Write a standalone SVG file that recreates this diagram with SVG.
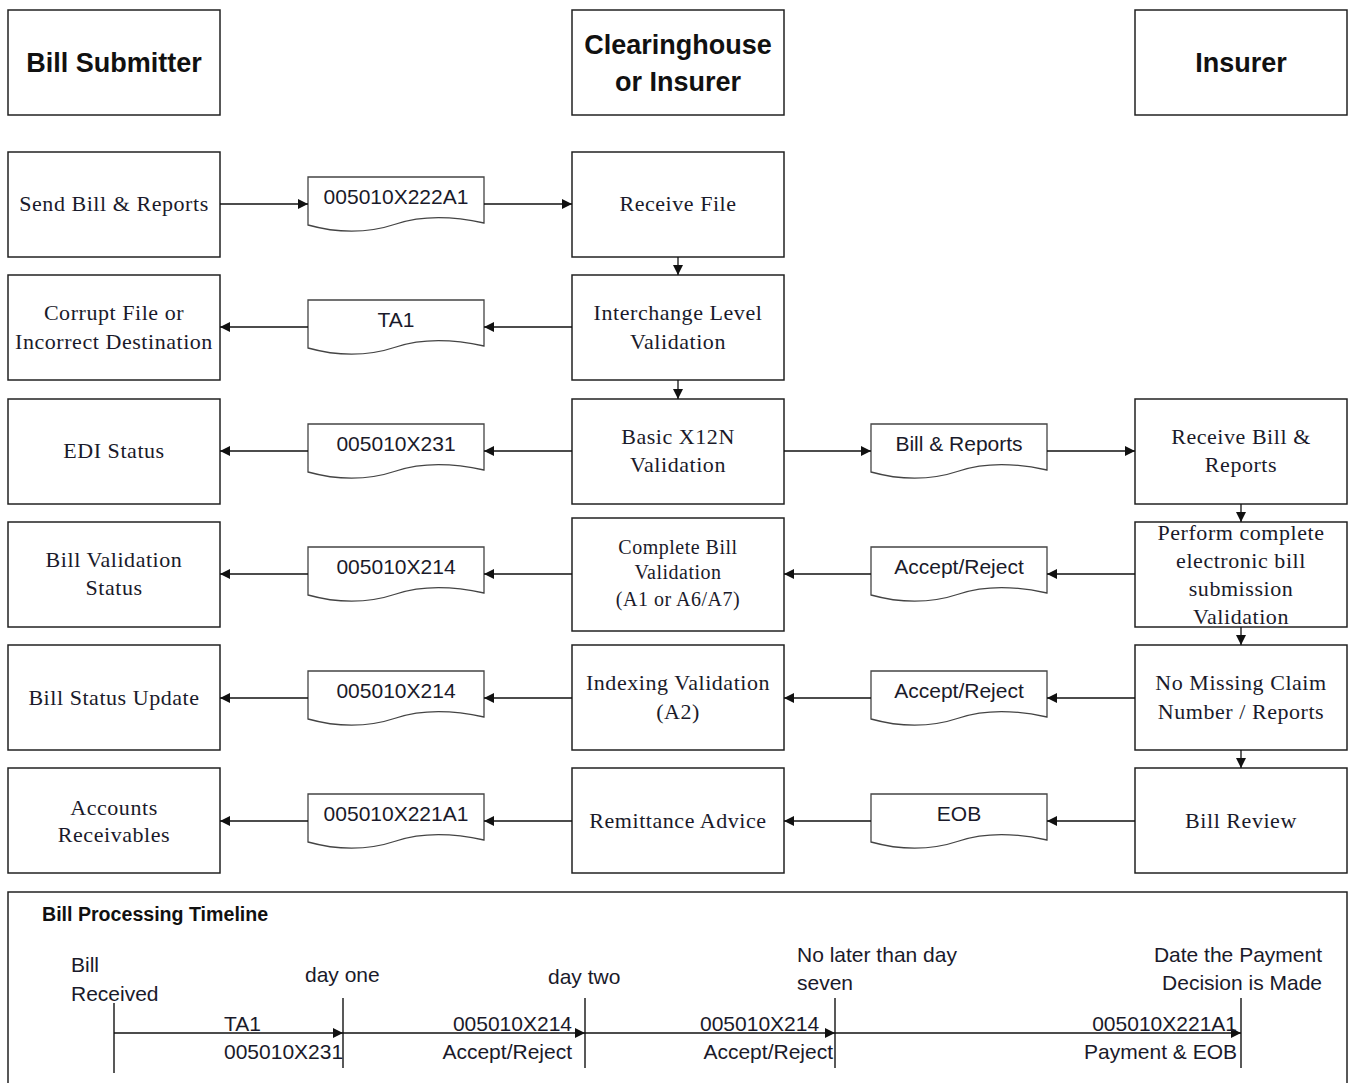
<svg xmlns="http://www.w3.org/2000/svg" width="1350" height="1083" viewBox="0 0 1350 1083">
<style>
.box{fill:#fff;stroke:#222;stroke-width:1.5}
.doc{fill:#fff;stroke:#444;stroke-width:1.3}
.hd{font-family:"Liberation Sans",Arial,sans-serif;font-weight:bold;font-size:27px;fill:#111;text-anchor:middle}
.t{font-family:"Liberation Serif","Times New Roman",serif;font-size:22px;letter-spacing:0.55px;fill:#1a1a2a;text-anchor:middle}
.ts{font-family:"Liberation Serif","Times New Roman",serif;font-size:20px;letter-spacing:0.5px;fill:#1a1a2a;text-anchor:middle}
.d{font-family:"Liberation Sans",Arial,sans-serif;font-size:21px;fill:#1a1a2a;text-anchor:middle}
.tl{font-family:"Liberation Sans",Arial,sans-serif;font-size:21px;fill:#1a1a2a}
.tlr{font-family:"Liberation Sans",Arial,sans-serif;font-size:21px;fill:#1a1a2a;text-anchor:end}
.tt{font-family:"Liberation Sans",Arial,sans-serif;font-weight:bold;font-size:19.6px;fill:#111}
.c{stroke:#111;stroke-width:1.3;fill:none;marker-end:url(#ah)}
.tick{stroke:#222;stroke-width:1.5}
</style>
<defs>
<marker id="ah" viewBox="0 0 10 10" refX="10" refY="5" markerWidth="10" markerHeight="10" markerUnits="userSpaceOnUse" orient="auto">
<path d="M0,0 L10,5 L0,10 Z" fill="#111"/>
</marker>
<path id="docshape" d="M0,-27 H176 V19 C140,11 112,12 88,20 C64,28 36,31 0,21 Z"/>
</defs>

<!-- headers -->
<g id="hdr-submitter"><rect class="box" x="8" y="10" width="212" height="105"/><text class="hd" x="114" y="72">Bill Submitter</text></g>
<g id="hdr-clearinghouse"><rect class="box" x="572" y="10" width="212" height="105"/><text class="hd" x="678" y="54">Clearinghouse</text><text class="hd" x="678" y="91">or Insurer</text></g>
<g id="hdr-insurer"><rect class="box" x="1135" y="10" width="212" height="105"/><text class="hd" x="1241" y="72">Insurer</text></g>

<!-- left column -->
<g id="send-bill"><rect class="box" x="8" y="152" width="212" height="105"/><text class="t" x="114" y="211">Send Bill &amp; Reports</text></g>
<g id="corrupt-file"><rect class="box" x="8" y="275" width="212" height="105"/><text class="t" x="114" y="320">Corrupt File or</text><text class="t" x="114" y="349">Incorrect Destination</text></g>
<g id="edi-status"><rect class="box" x="8" y="399" width="212" height="105"/><text class="t" x="114" y="458">EDI Status</text></g>
<g id="bill-validation-status"><rect class="box" x="8" y="522" width="212" height="105"/><text class="t" x="114" y="567">Bill Validation</text><text class="t" x="114" y="595">Status</text></g>
<g id="bill-status-update"><rect class="box" x="8" y="645" width="212" height="105"/><text class="t" x="114" y="705">Bill Status Update</text></g>
<g id="accounts-receivables"><rect class="box" x="8" y="768" width="212" height="105"/><text class="t" x="114" y="815">Accounts</text><text class="t" x="114" y="842">Receivables</text></g>

<!-- middle column -->
<g id="receive-file"><rect class="box" x="572" y="152" width="212" height="105"/><text class="t" x="678" y="211">Receive File</text></g>
<g id="interchange"><rect class="box" x="572" y="275" width="212" height="105"/><text class="t" x="678" y="320">Interchange Level</text><text class="t" x="678" y="349">Validation</text></g>
<g id="basic-x12n"><rect class="box" x="572" y="399" width="212" height="105"/><text class="t" x="678" y="444">Basic X12N</text><text class="t" x="678" y="472">Validation</text></g>
<g id="complete-bill"><rect class="box" x="572" y="518" width="212" height="113"/><text class="ts" x="678" y="554">Complete Bill</text><text class="ts" x="678" y="579">Validation</text><text class="ts" x="678" y="606">(A1 or A6/A7)</text></g>
<g id="indexing"><rect class="box" x="572" y="645" width="212" height="105"/><text class="t" x="678" y="690">Indexing Validation</text><text class="t" x="678" y="719">(A2)</text></g>
<g id="remittance"><rect class="box" x="572" y="768" width="212" height="105"/><text class="t" x="678" y="828">Remittance Advice</text></g>

<!-- right column -->
<g id="receive-bill"><rect class="box" x="1135" y="399" width="212" height="105"/><text class="t" x="1241" y="444">Receive Bill &amp;</text><text class="t" x="1241" y="472">Reports</text></g>
<g id="perform-complete"><rect class="box" x="1135" y="522" width="212" height="105"/><text class="t" x="1241" y="540">Perform complete</text><text class="t" x="1241" y="568">electronic bill</text><text class="t" x="1241" y="596">submission</text><text class="t" x="1241" y="624">Validation</text></g>
<g id="no-missing"><rect class="box" x="1135" y="645" width="212" height="105"/><text class="t" x="1241" y="690">No Missing Claim</text><text class="t" x="1241" y="719">Number / Reports</text></g>
<g id="bill-review"><rect class="box" x="1135" y="768" width="212" height="105"/><text class="t" x="1241" y="828">Bill Review</text></g>

<!-- documents left -->
<g id="doc-222a1"><use href="#docshape" class="doc" transform="translate(308,204)"/><text class="d" x="396" y="204">005010X222A1</text></g>
<g id="doc-ta1"><use href="#docshape" class="doc" transform="translate(308,327)"/><text class="d" x="396" y="327">TA1</text></g>
<g id="doc-231"><use href="#docshape" class="doc" transform="translate(308,451)"/><text class="d" x="396" y="451">005010X231</text></g>
<g id="doc-214a"><use href="#docshape" class="doc" transform="translate(308,574)"/><text class="d" x="396" y="574">005010X214</text></g>
<g id="doc-214b"><use href="#docshape" class="doc" transform="translate(308,698)"/><text class="d" x="396" y="698">005010X214</text></g>
<g id="doc-221a1"><use href="#docshape" class="doc" transform="translate(308,821)"/><text class="d" x="396" y="821">005010X221A1</text></g>
<!-- documents right -->
<g id="doc-bill-reports"><use href="#docshape" class="doc" transform="translate(871,451)"/><text class="d" x="959" y="451">Bill &amp; Reports</text></g>
<g id="doc-accept1"><use href="#docshape" class="doc" transform="translate(871,574)"/><text class="d" x="959" y="574">Accept/Reject</text></g>
<g id="doc-accept2"><use href="#docshape" class="doc" transform="translate(871,698)"/><text class="d" x="959" y="698">Accept/Reject</text></g>
<g id="doc-eob"><use href="#docshape" class="doc" transform="translate(871,821)"/><text class="d" x="959" y="821">EOB</text></g>

<!-- connectors -->
<g id="connectors">
<path class="c" d="M220,204 H308"/>
<path class="c" d="M484,204 H572"/>
<path class="c" d="M678,257 V275"/>
<path class="c" d="M678,380 V399"/>
<path class="c" d="M572,327 H484"/>
<path class="c" d="M308,327 H220"/>
<path class="c" d="M572,451 H484"/>
<path class="c" d="M308,451 H220"/>
<path class="c" d="M784,451 H871"/>
<path class="c" d="M1047,451 H1135"/>
<path class="c" d="M1241,504 V522"/>
<path class="c" d="M1241,627 V645"/>
<path class="c" d="M1241,750 V768"/>
<path class="c" d="M1135,574 H1047"/>
<path class="c" d="M871,574 H784"/>
<path class="c" d="M572,574 H484"/>
<path class="c" d="M308,574 H220"/>
<path class="c" d="M1135,698 H1047"/>
<path class="c" d="M871,698 H784"/>
<path class="c" d="M572,698 H484"/>
<path class="c" d="M308,698 H220"/>
<path class="c" d="M1135,821 H1047"/>
<path class="c" d="M871,821 H784"/>
<path class="c" d="M572,821 H484"/>
<path class="c" d="M308,821 H220"/>
</g>

<!-- timeline -->
<g id="timeline">
<rect class="box" x="8" y="892" width="1339" height="200"/>
<text class="tt" x="42" y="921">Bill Processing Timeline</text>
<line class="tick" x1="114" y1="1003" x2="114" y2="1073"/>
<line class="tick" x1="343" y1="998" x2="343" y2="1068"/>
<line class="tick" x1="585" y1="998" x2="585" y2="1068"/>
<line class="tick" x1="835" y1="998" x2="835" y2="1068"/>
<line class="tick" x1="1241" y1="998" x2="1241" y2="1068"/>
<path class="c" d="M114,1033 H343"/>
<path class="c" d="M343,1033 H585"/>
<path class="c" d="M585,1033 H835"/>
<path class="c" d="M835,1033 H1241"/>
<text class="tl" x="71" y="972">Bill</text>
<text class="tl" x="71" y="1001">Received</text>
<text class="tl" x="305" y="982">day one</text>
<text class="tl" x="548" y="984">day two</text>
<text class="tl" x="797" y="962">No later than day</text>
<text class="tl" x="797" y="990">seven</text>
<text class="tlr" x="1322" y="962">Date the Payment</text>
<text class="tlr" x="1322" y="990">Decision is Made</text>
<text class="tl" x="224" y="1031">TA1</text>
<text class="tl" x="224" y="1059">005010X231</text>
<text class="tlr" x="572" y="1031">005010X214</text>
<text class="tlr" x="572" y="1059">Accept/Reject</text>
<text class="tl" x="700" y="1031">005010X214</text>
<text class="tlr" x="833" y="1059">Accept/Reject</text>
<text class="tlr" x="1237" y="1031">005010X221A1</text>
<text class="tlr" x="1237" y="1059">Payment &amp; EOB</text>
</g>
</svg>
